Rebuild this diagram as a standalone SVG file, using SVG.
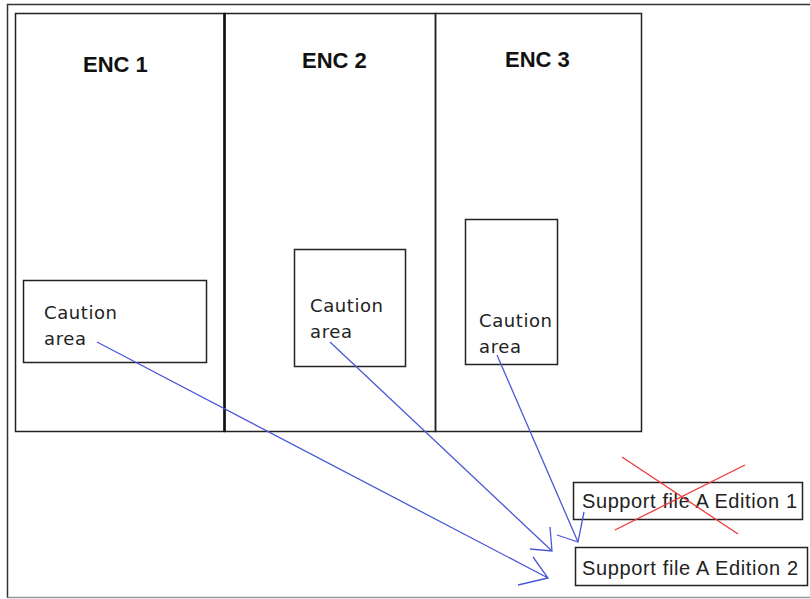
<svg xmlns="http://www.w3.org/2000/svg" width="810" height="599" viewBox="0 0 810 599">
<style>
.frame{fill:none;stroke:#222;stroke-width:1.5}
.box{fill:#fff;stroke:#222;stroke-width:1.5}
.enc{font-family:"Liberation Sans",Arial,sans-serif;font-weight:bold;font-size:22px;fill:#111}
.ca{font-family:"DejaVu Sans",Verdana,sans-serif;font-size:18px;fill:#222}
.sf{font-family:"Liberation Sans",Arial,sans-serif;font-size:20px;fill:#222}
.con{fill:none;stroke:#4a58d8;stroke-width:1.3;stroke-linejoin:miter}
.x{stroke:#f03838;stroke-width:1.3}
</style>
<rect x="0" y="0" width="810" height="599" fill="#fff"/>
<g id="outer-frame">
<path d="M7.5 598 V4.5 H812" fill="none" stroke="#333" stroke-width="1.5"/>
<path d="M7.5 597.5 H812" fill="none" stroke="#999" stroke-width="1.5"/>
</g>
<g id="enc1">
<rect class="frame" x="15.5" y="13.5" width="209" height="418"/>
<text class="enc" x="83" y="72">ENC 1</text>
</g>
<g id="enc2">
<rect class="frame" x="224.5" y="13.5" width="211" height="418"/>
<line x1="224.5" y1="13" x2="224.5" y2="432" stroke="#111" stroke-width="2.5"/>
<text class="enc" x="302" y="68">ENC 2</text>
</g>
<g id="enc3">
<rect class="frame" x="435.5" y="13.5" width="206" height="418"/>
<text class="enc" x="505" y="67">ENC 3</text>
</g>
<g id="caution1">
<rect class="box" x="23.5" y="280.5" width="183" height="82"/>
<text class="ca" x="44" y="319" textLength="73" lengthAdjust="spacing">Caution</text>
<text class="ca" x="44" y="345" textLength="42" lengthAdjust="spacing">area</text>
</g>
<g id="caution2">
<rect class="box" x="294.5" y="249.5" width="111" height="117"/>
<text class="ca" x="310" y="312" textLength="73" lengthAdjust="spacing">Caution</text>
<text class="ca" x="310" y="338" textLength="42" lengthAdjust="spacing">area</text>
</g>
<g id="caution3">
<rect class="box" x="465.5" y="219.5" width="92" height="145"/>
<text class="ca" x="479" y="327" textLength="73" lengthAdjust="spacing">Caution</text>
<text class="ca" x="479" y="353" textLength="42" lengthAdjust="spacing">area</text>
</g>
<g id="support1">
<rect class="box" x="573.5" y="482.5" width="229" height="37"/>
<text class="sf" x="582" y="508" textLength="215" lengthAdjust="spacing">Support file A Edition 1</text>
<line class="x" x1="622" y1="457" x2="738" y2="534"/>
<line class="x" x1="745" y1="465" x2="615" y2="530"/>
</g>
<g id="support2">
<rect class="box" x="575.5" y="547.5" width="232" height="38"/>
<text class="sf" x="582" y="575" textLength="216" lengthAdjust="spacing">Support file A Edition 2</text>
</g>
<g id="connectors">
<path class="con" d="M97 342 L548 578 M533 557 L548 578 L518 585"/>
<path class="con" d="M330 342 L552 551 M550 527 L552 551 L530 549"/>
<path class="con" d="M497 355 L578 542 M557 535 L578 542 L584 512"/>
</g>
</svg>
